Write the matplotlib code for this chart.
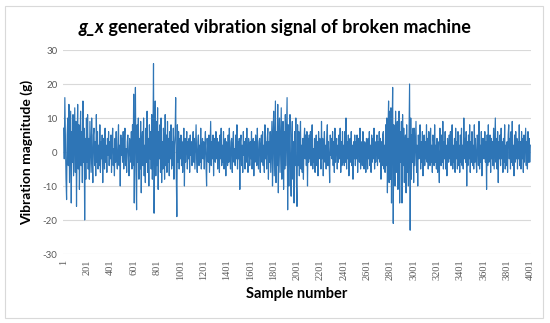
import matplotlib
matplotlib.use("Agg")
import matplotlib.pyplot as plt
from matplotlib.patches import Rectangle

# one value every 5 samples (1, 6, 11, ... 4001)
signal = [
    7, -2, 16, 3, -8, -14, 5, 10, -4, 14, -9, 2, 12, -15, 6, -3, 11, -7, 4, 13,
    -6, 9, -16, 2, 14, -5, 8, -11, 3, 12, -4, 6, -9, 15, -3, 7, -20, 4, -8, 10,
    -3, 11, -5, 4, -8, 9, 1, -6, 10, -2, -9, 5, 7, -4, 3, -7, 11, -3, 6, -5,
    2, -4, 8, -6, 3, -2, 5, -9, 4, 1, -5, 7, -3, 2, -6, 4, -1, 6, -4, 3,
    -2, 5, -6, 3, 7, -4, 1, -7, 4, -3, 6, -2, -5, 3, 8, -4, 2, -10, 5, -1,
    4, -3, 6, -5, 2, 7, -4, 1, -6, 3, 5, -2, -7, 4, 2, -3, 6, -5, 8, -4,
    17, -15, 5, 19, -6, -17, 8, -3, 10, -8, 4, -5, 9, -12, 3, 6, -4, 10, -7, 2,
    -9, 7, -3, 12, -6, 4, -10, 8, -2, 6, -5, 11, -8, 3, 26, -18, 5, 15, -7, 9,
    -4, 13, -11, 6, -2, 8, -6, 10, -9, 3, -5, 7, 2, -8, 11, -4, 5, -6, 9, -3,
    4, -7, 6, -2, 8, -5, 3, -4, 7, -8, 2, 5, 16, -6, -19, 8, -3, 6, -5, 4,
    -2, 5, -4, 3, -6, 2, 7, -10, 4, -3, 1, 6, -5, 3, -2, 4, -6, 5, -1, 3,
    -4, 2, 6, -3, 4, -5, 1, 8, -2, -6, 3, 5, -4, 2, -3, 7, -5, 1, 4, -2,
    3, -5, 2, 6, -4, -10, 4, 1, -3, 5, -6, 2, 9, -4, 3, -2, 5, -7, 2, 4,
    -3, 6, -2, 4, -5, 1, 3, -6, 5, -2, 7, -4, 2, -3, 6, -5, 1, 4, -7, 3,
    2, -4, 5, -3, 7, -1, -5, 3, 4, -6, 2, 6, -3, 1, -4, 5, -2, 8, -5, 3,
    -2, 4, -11, 3, 5, -4, 2, -6, 6, -1, 3, -5, 4, -3, 7, -2, -6, 4, 2, -4,
    3, -2, 6, -5, 1, 4, -7, 3, -3, 5, 2, -4, 7, -2, -5, 3, 4, -6, 2, 5,
    -3, 6, -4, 2, -6, 8, -2, 3, -5, 4, 7, -8, 3, -3, 6, -6, 2, 9, -10, 5,
    12, -7, 4, 15, -9, 6, -4, 14, -12, 5, 10, -6, 3, 13, -8, 2, 9, -11, 6, -5,
    11, -4, 7, 16, -17, 8, -10, 4, 11, -6, -13, 5, 9, -8, 3, -15, 6, -4, 10, -9,
    -16, 8, -4, 6, -7, 3, 9, -5, 2, -6, 4, -8, 3, 7, -2, 5, -4, 6, -10, 4,
    -3, 5, -2, 6, -4, 3, 8, -5, 1, -3, 4, -6, 2, 5, -4, 3, -7, 6, -2, 4,
    3, -5, 9, -2, 4, -7, 1, 6, -3, 2, -5, 4, 8, -4, 3, -2, -9, 5, -1, 4,
    -2, 6, -4, 3, -6, 7, -3, 1, 4, -5, 2, -3, 5, -2, 7, -6, 3, -4, 6, -3,
    2, -4, 6, -3, 10, -5, 3, -2, 5, -7, 1, 4, -3, 6, -4, 2, -8, 3, -2, 5,
    -4, 3, -2, 5, -6, 2, 4, -3, 7, -5, 1, 3, -4, 6, -2, -5, 3, 2, -6, 4,
    3, -5, 4, -2, 6, -4, 2, -6, 5, -3, 4, -2, 7, -5, 3, -3, 2, 5, -4, 3,
    -2, 6, -3, 4, -8, 3, -4, 5, 6, -5, 2, -6, 8, -4, 10, -12, 6, 15, -9, 12,
    -8, 13, -15, 6, 19, -21, 8, -4, -10, 12, -6, 5, 9, -11, 4, 12, -15, 6, -3, 9,
    -15, 11, -4, 7, -9, 3, 5, -12, 8, -6, 4, -10, 6, 20, -23, 10, -8, 5, -3, 7,
    -9, 7, -4, 3, 9, -6, 2, -10, 5, -2, 4, 8, -5, 3, -3, 6, -7, 2, 5, -4,
    3, -2, 8, -3, 4, -5, 6, -1, -4, 7, -3, 2, -6, 5, 3, -4, 8, -3, 2, -5,
    4, -6, 3, -2, -9, 7, 2, -4, 5, -3, 9, -5, 3, -2, 6, -5, 2, -7, 4, 1,
    -3, 5, -2, 6, -4, 3, 8, -5, 2, -3, 4, -6, 7, -2, 3, -5, 6, -4, 2, -6,
    5, -3, 7, -4, 2, -5, 10, -2, 4, -3, 6, -10, 3, -4, 5, -2, 8, -6, 3, -3,
    6, -4, 2, -5, 8, -3, 4, -2, -6, 5, 3, -4, 9, -5, 2, -3, 6, -7, 4, -2,
    4, -2, 6, -3, 3, -11, 5, -4, 8, -3, 2, 5, -6, 4, -2, 3, -4, 7, -5, 2,
    10, -3, 4, -5, 6, -9, 3, -2, 5, -4, 7, -2, 3, -6, 4, -3, 8, -5, 2, -4,
    3, -6, 5, 8, -2, 4, -5, 6, -3, 9, -4, 2, -7, 5, -3, 6, -2, 4, -5, 3,
    -2, 8, -4, 3, -5, 6, -2, 4, -6, 5, -3, 2, 7, -4, 3, -5, 6, -3, 4, -3,
    2,
]
step = 4000 / (len(signal) - 1)
samples = [1 + step * i for i in range(len(signal))]
tick_samples = list(range(1, 4002, 200))
y_ticks = [-30, -20, -10, 0, 10, 20, 30]

fig = plt.figure(figsize=(5.5, 3.23), dpi=100)
ax = fig.add_axes([0.1145, 0.2136, 0.851, 0.6316])

ax.plot(samples, signal, color="#2E75B6", lw=0.85)

ax.set_xlim(-5, 4007)
ax.set_ylim(-30, 30)
ax.set_yticks(y_ticks)
ax.set_xticks(tick_samples)
ax.set_xticklabels([str(t) for t in tick_samples], rotation=90,
                   family="Liberation Serif", fontsize=7.5, color="#595959")
ax.set_yticklabels([str(t) for t in y_ticks], family="Lato",
                   fontsize=7, color="#595959")
ax.tick_params(length=0, pad=4)
ax.grid(axis="y", color="#D9D9D9", lw=0.8)
ax.set_axisbelow(True)
for s in ax.spines.values():
    s.set_visible(False)

ax.set_ylabel("Vibration magnitude (g)", family="Lato", fontweight="bold",
              fontsize=10, labelpad=7)
ax.set_xlabel("Sample number", family="Lato", fontweight="bold",
              fontsize=10.5, labelpad=5)

# title: italic "g_x" followed by upright text, centered as a whole
fig.canvas.draw()
r = fig.canvas.get_renderer()
t1 = fig.text(0, 0.915, "g_x", family="Lato", fontweight="bold",
              style="italic", fontsize=13, va="center")
t2 = fig.text(0, 0.915, " generated vibration signal of broken machine",
              family="Lato", fontweight="bold", fontsize=13, va="center")
w1 = t1.get_window_extent(r).width
w2 = t2.get_window_extent(r).width
W = fig.bbox.width
x0 = (275 - (w1 + w2) / 2) / W
t1.set_x(x0)
t2.set_x(x0 + w1 / W)

fig.patches.append(Rectangle((5 / 550, 5 / 323), 538 / 550, 312 / 323,
                             transform=fig.transFigure, fill=False,
                             edgecolor="#D9D9D9", lw=0.8))

fig.savefig("out.png", dpi=100)
